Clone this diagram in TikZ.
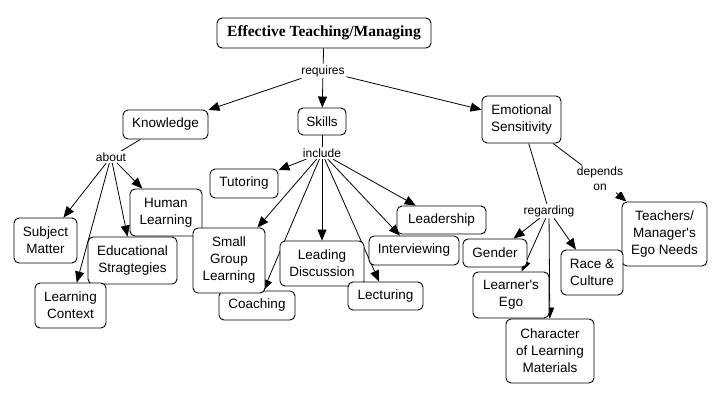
\documentclass[tikz,border=0pt]{standalone}
\usepackage{fontspec}
\setmainfont{Liberation Sans}[Ligatures=TeXOff]
\newfontfamily\titlefont{Liberation Serif}
\usetikzlibrary{arrows.meta}
\pgfdeclarelayer{bg}
\pgfdeclarelayer{background}
\pgfsetlayers{bg,background,main}
\tikzset{
  concept/.style={draw=black, line width=0.9pt, rounded corners=5pt, fill=white, align=center,
    font=\fontsize{13.5}{17}\selectfont, inner sep=0pt},
  linklabel/.style={fill=white, align=center, inner sep=1.5pt, font=\fontsize{12}{15}\selectfont},
  arr/.style={line width=0.8pt, -{Triangle[length=11pt,width=9pt]}},
  plain/.style={line width=0.8pt}
}
\begin{document}
\begin{tikzpicture}[x=1pt,y=-1pt]
\begin{pgfonlayer}{bg}
\fill[white] (0,0) rectangle (720,400);
\end{pgfonlayer}
\useasboundingbox (0,0) rectangle (720,400);
% concepts
\node[concept, minimum width=214pt, minimum height=30pt, font=\titlefont\bfseries\fontsize{15.5}{18}\selectfont] (title) at (324,33) {Effective Teaching/Managing};
\node[concept, minimum width=85pt, minimum height=29pt] (know) at (165.5,124.5) {Knowledge};
\node[concept, minimum width=48pt, minimum height=27pt] (skills) at (322,121.5) {Skills};
\node[concept, minimum width=79pt, minimum height=47pt] (emo) at (521.5,119.5) {Emotional\\Sensitivity};
\node[concept, minimum width=63pt, minimum height=45pt] (subj) at (45.5,240.5) {Subject\\Matter};
\node[concept, minimum width=72pt, minimum height=47pt] (human) at (166,212.5) {Human\\Learning};
\node[concept, minimum width=89pt, minimum height=47pt] (edu) at (132.5,260.5) {Educational\\Stragtegies};
\node[concept, minimum width=71pt, minimum height=45pt] (lctx) at (70.5,305.5) {Learning\\Context};
\node[concept, minimum width=68pt, minimum height=29pt] (tutor) at (244,183.5) {Tutoring};
\node[concept, minimum width=76pt, minimum height=29pt] (coach) at (257,305.5) {Coaching};
\node[concept, minimum width=72pt, minimum height=65pt] (sgl) at (229,260.5) {Small\\Group\\Learning};
\node[concept, minimum width=84pt, minimum height=45pt] (lead) at (322,263.5) {Leading\\Discussion};
\node[concept, minimum width=75pt, minimum height=28pt] (lect) at (385.5,296) {Lecturing};
\node[concept, minimum width=89pt, minimum height=28pt] (leader) at (441.5,220) {Leadership};
\node[concept, minimum width=90pt, minimum height=29pt] (interv) at (414,250.5) {Interviewing};
\node[concept, minimum width=85pt, minimum height=64pt] (teach) at (664.5,234) {Teachers/\\Manager's\\Ego Needs};
\node[concept, minimum width=64pt, minimum height=28pt] (gender) at (495,253) {Gender};
\node[concept, minimum width=62pt, minimum height=45pt] (race) at (592,272.5) {Race \&\\Culture};
\node[concept, minimum width=76pt, minimum height=46pt] (learner) at (511,295) {Learner's\\Ego};
\node[concept, minimum width=88pt, minimum height=64pt] (char) at (550,351) {Character\\of Learning\\Materials};
% link labels
\node[linklabel] (requires) at (323,71) {requires};
\node[linklabel] (about) at (111,157) {about};
\node[linklabel] (include) at (322,153) {include};
\node[linklabel] (regarding) at (549,211) {regarding};
\node[linklabel] (depends) at (600,179) {depends\\on};
% connectors
\begin{pgfonlayer}{background}
\draw[plain] (title) -- (requires);
\draw[arr] (requires) -- (know);
\draw[arr] (requires) -- (skills);
\draw[arr] (requires) -- (emo);
\draw[plain] (know) -- (about);
\draw[arr] (about) -- (subj);
\draw[arr] (about) -- (lctx);
\draw[arr] (about) -- (edu);
\draw[arr] (about) -- (human);
\draw[plain] (skills) -- (include);
\draw[arr] (include) -- (tutor);
\draw[arr] (include) -- (sgl);
\draw[arr] (include) -- (coach);
\draw[arr] (include) -- (lead);
\draw[arr] (include) -- (lect);
\draw[arr] (include) -- (interv);
\draw[arr] (include) -- (leader);
\draw[plain] (emo) -- (regarding);
\draw[arr] (regarding) -- (gender);
\draw[arr] (regarding) -- (learner);
\draw[arr] (regarding) -- (char);
\draw[arr] (regarding) -- (race);
\draw[plain] (emo) -- (depends);
\draw[arr] (depends) -- (teach);
\end{pgfonlayer}
\end{tikzpicture}
\end{document}
